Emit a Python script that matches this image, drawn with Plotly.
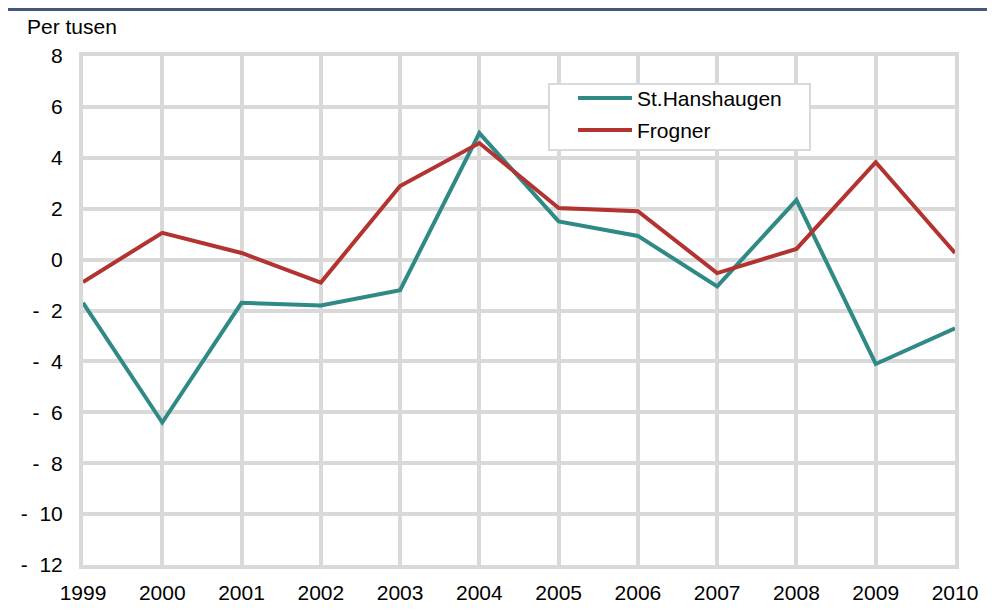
import plotly.graph_objects as go

years = [1999, 2000, 2001, 2002, 2003, 2004, 2005, 2006, 2007, 2008, 2009, 2010]
st_hanshaugen = [-1.7, -6.4, -1.7, -1.8, -1.2, 4.97, 1.5, 0.93, -1.05, 2.34, -4.1, -2.7]
frogner = [-0.88, 1.05, 0.26, -0.9, 2.89, 4.58, 2.03, 1.9, -0.53, 0.42, 3.83, 0.26]
y_ticks = [8, 6, 4, 2, 0, -2, -4, -6, -8, -10, -12]
y_ticktext = ["8", "6", "4", "2", "0", "-\u00a0\u00a02", "-\u00a0\u00a04", "-\u00a0\u00a06",
              "-\u00a0\u00a08", "-\u00a0\u00a010", "-\u00a0\u00a012"]
series_names = ["St.Hanshaugen", "Frogner"]
colors = ["#2F8A86", "#B23330"]

OFF = 8  # page body margin
W, H = 995 - OFF, 616 - OFF
L, R, T, B = 83 - OFF, 955 - OFF, 56 - OFF, 565 - OFF
def px(x):
    return (x - OFF - L) / (R - L)
def py(y):
    return (B - (y - OFF)) / (B - T)

FONT = "Liberation Sans, Arial, sans-serif"
FS = 21

fig = go.Figure()
for name, vals, col in zip(series_names, [st_hanshaugen, frogner], colors):
    fig.add_trace(go.Scatter(x=years, y=vals, mode="lines", name=name,
                             line=dict(color=col, width=4), showlegend=False))

shapes = []
annotations = []
# top rule
shapes.append(dict(type="line", xref="paper", yref="paper", x0=px(OFF), x1=px(995),
                   y0=py(9.5), y1=py(9.5), line=dict(color="#44577F", width=3)))
# manual legend box
shapes.append(dict(type="rect", xref="paper", yref="paper", x0=px(549), x1=px(810),
                   y0=py(84), y1=py(150), fillcolor="white",
                   line=dict(color="#D9D9D9", width=2), layer="above"))
for i, (name, col) in enumerate(zip(series_names, colors)):
    yy = 98 + i * 32
    shapes.append(dict(type="line", xref="paper", yref="paper", x0=px(578), x1=px(632),
                       y0=py(yy), y1=py(yy), line=dict(color=col, width=4), layer="above"))
    annotations.append(dict(text=name, xref="paper", yref="paper", x=px(635), y=py(yy),
                            xanchor="left", yanchor="middle", showarrow=False,
                            font=dict(size=FS, color="#000000", family=FONT)))

annotations.append(dict(text="Per tusen", xref="paper", yref="paper", x=px(25), y=py(26),
                        xanchor="left", yanchor="middle", showarrow=False,
                        font=dict(size=FS, color="#000000", family=FONT)))

fig.update_layout(
    width=W, height=H,
    margin=dict(l=L, r=W - R, t=T, b=H - B),
    paper_bgcolor="white", plot_bgcolor="white",
    font=dict(family=FONT, size=FS, color="#000000"),
    shapes=shapes, annotations=annotations,
    xaxis=dict(range=[1999, 2010], tickmode="array", tickvals=years,
               ticktext=[str(y) for y in years],
               showgrid=True, gridcolor="#D9D9D9", gridwidth=4,
               showline=True, linecolor="#D9D9D9", linewidth=4, mirror=True,
               zeroline=False, ticks="outside", ticklen=6, tickcolor="rgba(0,0,0,0)"),
    yaxis=dict(range=[-12, 8], tickmode="array", tickvals=y_ticks, ticktext=y_ticktext,
               showgrid=True, gridcolor="#D9D9D9", gridwidth=4,
               showline=True, linecolor="#D9D9D9", linewidth=4, mirror=True,
               zeroline=False, ticks="outside", ticklen=12, tickcolor="rgba(0,0,0,0)"),
)

fig.write_html("out.html")
